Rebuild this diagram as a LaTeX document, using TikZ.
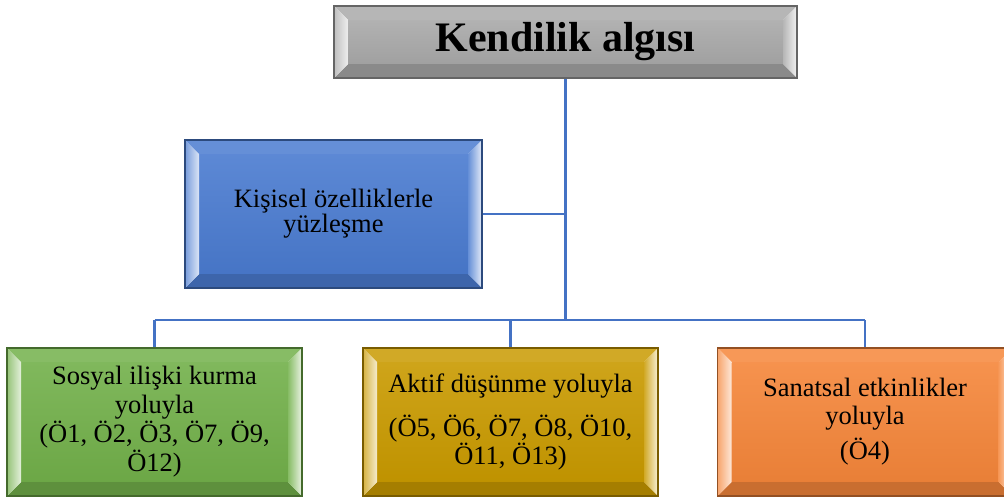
\documentclass[tikz,border=0pt]{standalone}
\usepackage{fontspec}
\setmainfont{Liberation Serif}
\usetikzlibrary{calc}
\definecolor{cgray}{HTML}{A9A9A9}
\definecolor{cblue}{HTML}{4A7BD0}
\definecolor{cgreen}{HTML}{72B04A}
\definecolor{cgold}{HTML}{C99A00}
\definecolor{corange}{HTML}{F5863A}
\definecolor{cline}{HTML}{4472C4}
\tikzset{
  bevelbox/.style={draw=#1!60!black, line width=1.2pt, inner sep=0pt, align=center, text=black,
    path picture={
      \coordinate (pa) at (path picture bounding box.south west);
      \coordinate (pb) at (path picture bounding box.north east);
      \coordinate (pc) at (path picture bounding box.north west);
      \coordinate (pd) at (path picture bounding box.south east);
      \coordinate (isw) at ($(pa)+(14pt,14pt)$);
      \coordinate (ine) at ($(pb)+(-14pt,-14pt)$);
      \coordinate (inw) at ($(pc)+(14pt,-14pt)$);
      \coordinate (ise) at ($(pd)+(-14pt,14pt)$);
      \shade[top color=#1!90!white, bottom color=#1!95!black] (isw) rectangle (ine);
      \fill[#1!85!white] (pc) -- (pb) -- (ine) -- (inw) -- cycle;
      \fill[#1!82!black] (pa) -- (pd) -- (ise) -- (isw) -- cycle;
      \shade[left color=#1!75!white, right color=#1!20!white] (pa) -- (pc) -- (inw) -- (isw) -- cycle;
      \shade[left color=#1!85!white, right color=#1!15!white] (pd) -- (pb) -- (ine) -- (ise) -- cycle;
    }},
  conn/.style={draw=cline, line width=2.2pt},
  bodytext/.style={font=\fontsize{26.5}{#1}\selectfont},
}
\begin{document}
\begin{tikzpicture}[x=1pt,y=-1pt]
\useasboundingbox[fill=white] (0,0) rectangle (1004,498);
\coordinate (bus) at (565.5,320);
\coordinate (busL) at (154.5,320);
\coordinate (busR) at (865,320);
\node[bevelbox=cgray, minimum width=463pt, minimum height=72pt,
      font=\fontsize{42}{48}\selectfont\bfseries] (top) at (565.5,42) {Kendilik algısı};
\node[bevelbox=cblue, minimum width=297pt, minimum height=148pt, bodytext=25] (blue) at (333.5,214)
  {Kişisel özelliklerle\\yüzleşme};
\node[bevelbox=cgreen, minimum width=295pt, minimum height=148pt, bodytext=29] (green) at (154.5,422)
  {Sosyal ilişki kurma\\yoluyla\\(Ö1, Ö2, Ö3, Ö7, Ö9,\\Ö12)};
\node[bevelbox=cgold, minimum width=295pt, minimum height=148pt, bodytext=24] (gold) at (510.5,422)
  {Aktif düşünme yoluyla\\[15pt](Ö5, Ö6, Ö7, Ö8, Ö10,\\Ö11, Ö13)};
\node[bevelbox=corange, minimum width=295pt, minimum height=148pt, bodytext=28] (orange) at (865,422)
  {Sanatsal etkinlikler\\yoluyla\\[7pt](Ö4)};
\draw[conn] (top.south) -- (bus);
\draw[conn] (blue.east) -- (blue.east -| top.south);
\draw[conn] (busL) -- (busR);
\draw[conn] (busL) -- (green.north);
\draw[conn] (gold.north |- bus) -- (gold.north);
\draw[conn] (busR) -- (orange.north);
\end{tikzpicture}
\end{document}
